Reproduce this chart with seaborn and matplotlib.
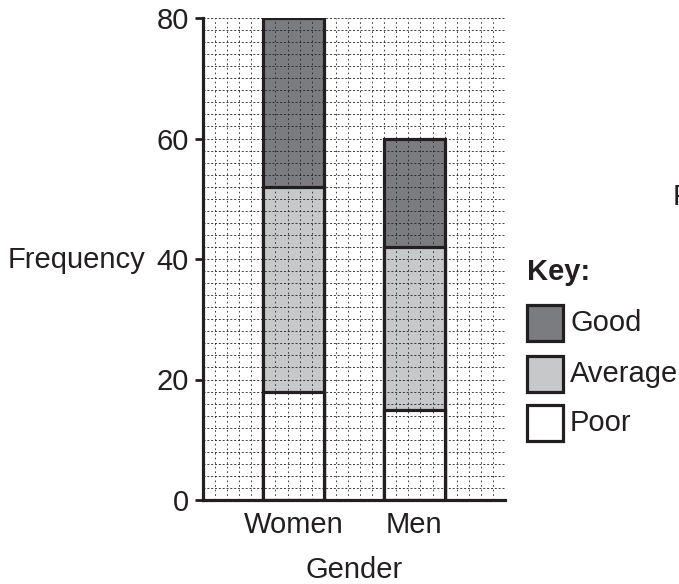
import numpy as np
import pandas as pd
import matplotlib
matplotlib.use("Agg")
import matplotlib.pyplot as plt
from matplotlib.patches import Rectangle
import seaborn as sns

genders = ["Women", "Men"]
poor = [18, 15]
average = [34, 27]
good = [28, 18]
levels = ["Good", "Average", "Poor"]
colors = {"Good": "#7b7c7f", "Average": "#c7c8ca", "Poor": "#ffffff"}
edge = "#231f20"

sns.set_theme(style="white")
plt.rcParams['font.family'] = ['Liberation Sans', 'DejaVu Sans']

fig = plt.figure(figsize=(6.79, 5.84), dpi=100)
ax = fig.add_axes([203/679, 84/584, 302/679, 482/584])

cum_poor = np.array(poor)
cum_avg = cum_poor + np.array(average)
cum_good = cum_avg + np.array(good)
stack = [("Good", cum_good), ("Average", cum_avg), ("Poor", cum_poor)]
for name, vals in stack:
    df = pd.DataFrame({"Gender": genders, "Frequency": vals})
    sns.barplot(data=df, x="Gender", y="Frequency", color=colors[name],
                saturation=1, width=0.5, edgecolor=edge, linewidth=2.3, ax=ax, zorder=2)

ax.set_xlim(-0.75, 1.75)
ax.set_ylim(0, 80)

# dotted grid (drawn over the bars, as in the reference)
for xv in np.arange(-0.75, 1.7501, 0.1):
    ax.axvline(xv, color=edge, lw=0.6, ls=(0, (2.0, 3.5)), zorder=3)
for yv in np.arange(2, 80.01, 2):
    ax.axhline(yv, color=edge, lw=0.6, ls=(0, (2.4, 2.2)), zorder=3)

for s in ["top", "right"]:
    ax.spines[s].set_visible(False)
for s in ["left", "bottom"]:
    ax.spines[s].set_color(edge)
    ax.spines[s].set_linewidth(2.3)
    ax.spines[s].set_zorder(4)

ax.set_yticks([0, 20, 40, 60, 80])
ax.tick_params(axis="y", left=True, length=6, width=2, color=edge, labelsize=21,
               labelcolor=edge, pad=4)
ax.tick_params(axis="x", bottom=False, length=0, labelsize=21, labelcolor=edge, pad=8)
ax.set_ylabel("")
ax.set_xlabel("Gender", fontsize=21, color=edge, labelpad=12)

fig.text(8/679, 1 - 260/584, "Frequency", fontsize=21, color=edge, ha="left", va="center")

# Key
fig.text(527/679, 1 - 272/584, "Key:", fontsize=21, fontweight="bold", color=edge,
         ha="left", va="center")
tr = fig.transFigure
boxes = [("Good", 305), ("Average", 356), ("Poor", 405)]
for name, ytop in boxes:
    r = Rectangle((527/679, 1 - (ytop + 36)/584), 36/679, 36/584, transform=tr,
                  facecolor=colors[name], edgecolor=edge, linewidth=2.3)
    fig.add_artist(r)
    fig.text(570/679, 1 - (ytop + 18)/584, name, fontsize=21, color=edge,
             ha="left", va="center")

fig.text(673/679, 1 - 197/584, "F", fontsize=21, color=edge, ha="left", va="center")

fig.savefig("out.png", dpi=100)
